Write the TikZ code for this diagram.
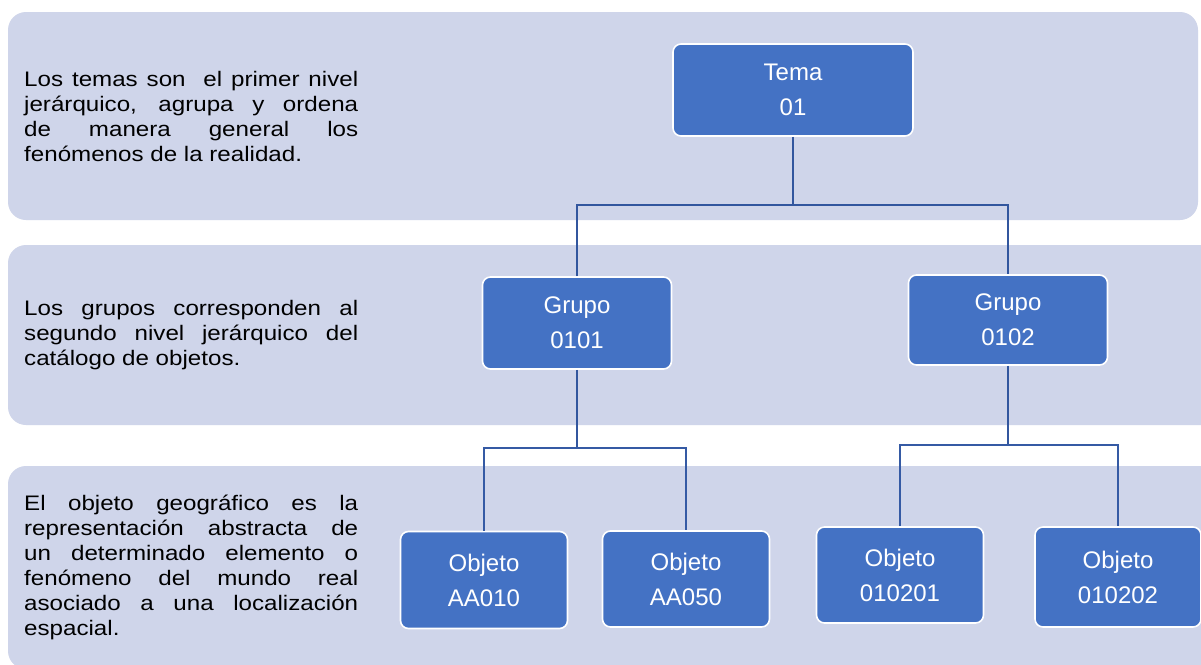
\documentclass[tikz,border=0pt]{standalone}
\usepackage{fontspec}
\setmainfont{Liberation Sans}
\newfontfamily\bodyfont[FakeStretch=1.15]{Liberation Sans}
\definecolor{bandfill}{RGB}{207,213,234}
\definecolor{boxfill}{RGB}{68,114,196}
\definecolor{linkcol}{RGB}{50,86,158}
\tikzset{
  band/.style={fill=bandfill, draw=none, rounded corners=18pt},
  note/.style={anchor=west, text width=334pt, align=justify, inner sep=0pt,
    font=\bodyfont\fontsize{21}{25}\selectfont, text=black},
  unit/.style={rectangle, rounded corners=8pt, fill=boxfill, draw=white,
    line width=1.6pt, inner sep=0pt, align=center, text=white,
    font=\fontsize{24}{35}\selectfont},
  link/.style={draw=linkcol, line width=2.7pt},
  sublink/.style={draw=linkcol!85!boxfill, line width=2.1pt},
}
\begin{document}
\begin{tikzpicture}[x=1pt,y=-1pt]
  \useasboundingbox (0,0) rectangle (1201,664);
  \fill[white] (0,0) rectangle (1201,664);
  \clip (0,0) rectangle (1201,664);

  % horizontal level bands
  \path[band] (8,12) rectangle (1198,220);
  \path[band] (8,245) rectangle (1220,425);
  \path[band] (8,466) rectangle (1220,669);

  % level descriptions
  \node[note] (t1) at (24,116) {Los temas son\ \ el primer nivel\linebreak
    jerárquico, agrupa y ordena\linebreak
    de manera general los\linebreak
    fenómenos de la realidad.};
  \node[note] (t2) at (24,335) {Los grupos corresponden al\linebreak
    segundo nivel jerárquico del\linebreak
    catálogo de objetos.};
  \node[note] (t3) at (24,567) {El objeto geográfico es la\linebreak
    representación abstracta de\linebreak
    un determinado elemento o\linebreak
    fenómeno del mundo real\linebreak
    asociado a una localización\linebreak
    espacial.};

  % hierarchy boxes
  \node[unit, minimum width=240pt, minimum height=92pt] (tema) at (793,90) {Tema\\01};
  \node[unit, minimum width=189pt, minimum height=92pt] (g1) at (577,323) {Grupo\\0101};
  \node[unit, minimum width=199pt, minimum height=90pt] (g2) at (1008,320) {Grupo\\0102};
  \node[unit, minimum width=167pt, minimum height=97pt] (o1) at (484,580) {Objeto\\AA010};
  \node[unit, minimum width=167pt, minimum height=96pt] (o2) at (686,579) {Objeto\\AA050};
  \node[unit, minimum width=167pt, minimum height=96pt] (o3) at (900,575) {Objeto\\010201};
  \node[unit, minimum width=166pt, minimum height=100pt] (o4) at (1118,577) {Objeto\\010202};

  % connector junctions
  \coordinate (j0) at (793,205);
  \coordinate (j1) at (577,448);
  \coordinate (j2) at (1008,445);

  \draw[link] (tema.south) -- (j0);
  \draw[link] (g1.north) |- (j0) -| (g2.north);
  \draw[link] (g1.south) -- (j1);
  \draw[link] (g2.south) -- (j2);
  \draw[sublink] (o1.north) |- (j1) -| (o2.north);
  \draw[sublink] (o3.north) |- (j2) -| (o4.north);
\end{tikzpicture}
\end{document}
